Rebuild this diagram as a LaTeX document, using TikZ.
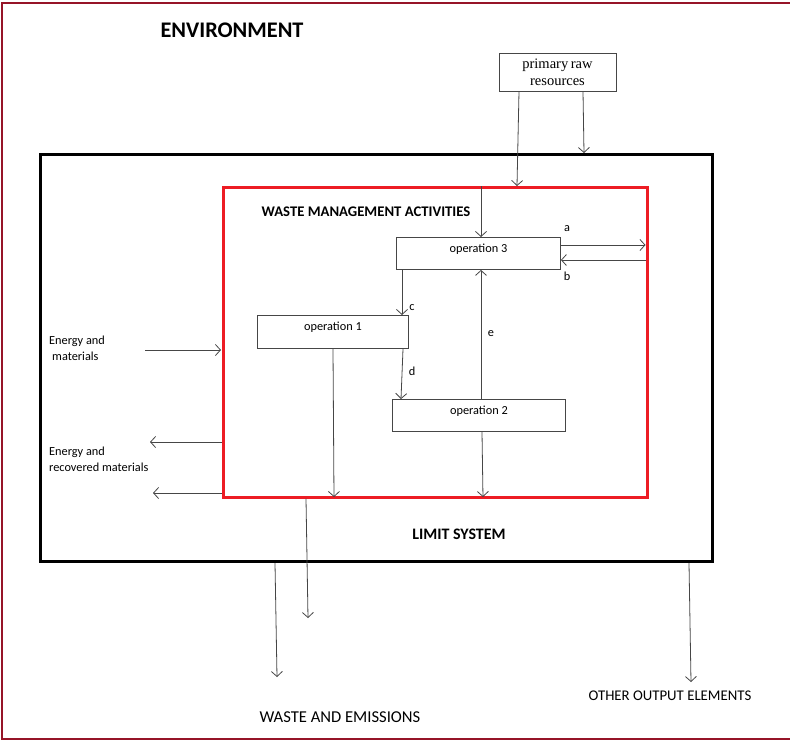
\documentclass[tikz,border=0pt]{standalone}
\usepackage{fontspec}
\setmainfont{Carlito}
\newfontfamily\serifface{Liberation Serif}
\usetikzlibrary{arrows.meta}
\definecolor{envred}{RGB}{150,20,40}
\definecolor{boxred}{RGB}{237,28,36}
\definecolor{linegray}{RGB}{70,70,70}
\tikzset{
  arr/.style={draw=linegray, line width=0.8pt, -{Straight Barb[length=5pt,width=11pt,line width=0.8pt]}},
  opbox/.style={draw=linegray, line width=0.9pt, inner sep=0pt, anchor=north west},
  oplabel/.style={font=\fontsize{12.3}{14}\selectfont},
  small/.style={font=\fontsize{12.3}{16}\selectfont, inner sep=0pt},
  title/.style={font=\fontsize{14.7}{17}\selectfont\bfseries, inner sep=0pt},
  caps/.style={font=\fontsize{15.5}{18}\selectfont, inner sep=0pt}
}
\begin{document}
\begin{tikzpicture}[x=1pt,y=-1pt]
\useasboundingbox (0,0) rectangle (790,740);
% environment frame
\draw[envred, line width=2.2pt] (790,3) -- (2,3) -- (2,739) -- (790,739);
\node[font=\fontsize{22.3}{24}\selectfont\bfseries, inner sep=0pt] (env) at (232,30) {ENVIRONMENT};
% boxes
\node[draw=black, line width=3pt, inner sep=0pt, anchor=north west, minimum width=672pt, minimum height=407pt] (limit) at (39,153) {};
\node[draw=boxred, line width=2.5pt, inner sep=0pt, anchor=north west, minimum width=424pt, minimum height=310pt] (wma) at (222,186) {};
\node[draw=linegray, line width=0.9pt, minimum width=117pt, minimum height=38pt, inner sep=0pt, align=center, font=\serifface\fontsize{14.5}{17}\selectfont] (raw) at (557.5,72) {primary\hspace{-1pt} raw\\resources};
\node[opbox, minimum width=164pt, minimum height=32pt, label={[oplabel, anchor=north, yshift=-3pt]north:operation 3}] (op3) at (396,237) {};
\node[opbox, minimum width=151pt, minimum height=33pt, label={[oplabel, anchor=north, yshift=-3pt]north:operation 1}] (op1) at (257,315) {};
\node[opbox, minimum width=173pt, minimum height=32pt, label={[oplabel, anchor=north, yshift=-3pt]north:operation 2}] (op2) at (392,399) {};
% titles
\node[title] (wmat) at (366,212) {WASTE MANAGEMENT ACTIVITIES};
\node[title, font=\fontsize{16}{18}\selectfont\bfseries] (lst) at (459,534) {LIMIT SYSTEM};
\node[caps, font=\fontsize{16.6}{18}\selectfont] (we) at (340,717) {WASTE AND EMISSIONS};
\node[caps, font=\fontsize{14.8}{18}\selectfont] (oo) at (670,696) {OTHER OUTPUT ELEMENTS};
\node[small, anchor=north west, align=left] (em) at (49,336) {Energy and\\\hspace{3pt}materials};
\node[small, anchor=north west, align=left] (erm) at (49,447) {Energy and\\recovered materials};
% letter labels
\node[small] (la) at (567,229) {a};
\node[small] (lb) at (567,276) {b};
\node[small] (lc) at (412,308) {c};
\node[small] (ld) at (412,371) {d};
\node[small] (le) at (491,334) {e};
% free-end coordinates
\coordinate (ein) at (145,350);
\coordinate (eout1) at (150,442);
\coordinate (eout2) at (153,493);
\coordinate (w1) at (308,618);
\coordinate (w2) at (277,677);
\coordinate (o1) at (691,682);
% connectors
\draw[arr] (raw.south -| 519,0) -- (wma.north -| 517,0);
\draw[arr] (raw.south -| 583,0) -- (limit.north -| 584,0);
\draw[arr] (wma.north -| 481,0) -- (op3.north -| 481,0);
\draw[arr, shorten >=3pt] (op3.east |- 0,245) -- (wma.east |- 0,245);
\draw[arr, shorten <=3pt] (wma.east |- 0,260) -- (op3.east |- 0,260);
\draw[arr] (op3.south -| 402,0) -- (op1.north -| 402,0);
\draw[arr] (op1.south -| 403,0) -- (op2.north -| 401,0);
\draw[arr] (op2.north -| 481,0) -- (op3.south -| 481,0);
\draw[arr, shorten >=1.5pt] (op1.south -| 333,0) -- (wma.south -| 334,0);
\draw[arr, shorten >=1.5pt] (op2.south -| 482,0) -- (wma.south -| 483,0);
\draw[arr, shorten >=1pt] (ein) -- (wma.west |- ein);
\draw[arr] (wma.west |- eout1) -- (eout1);
\draw[arr] (wma.west |- eout2) -- (eout2);
\draw[arr] (wma.south -| 306,0) -- (w1);
\draw[arr] (limit.south -| 275,0) -- (w2);
\draw[arr] (limit.south -| 689,0) -- (o1);
\end{tikzpicture}
\end{document}
